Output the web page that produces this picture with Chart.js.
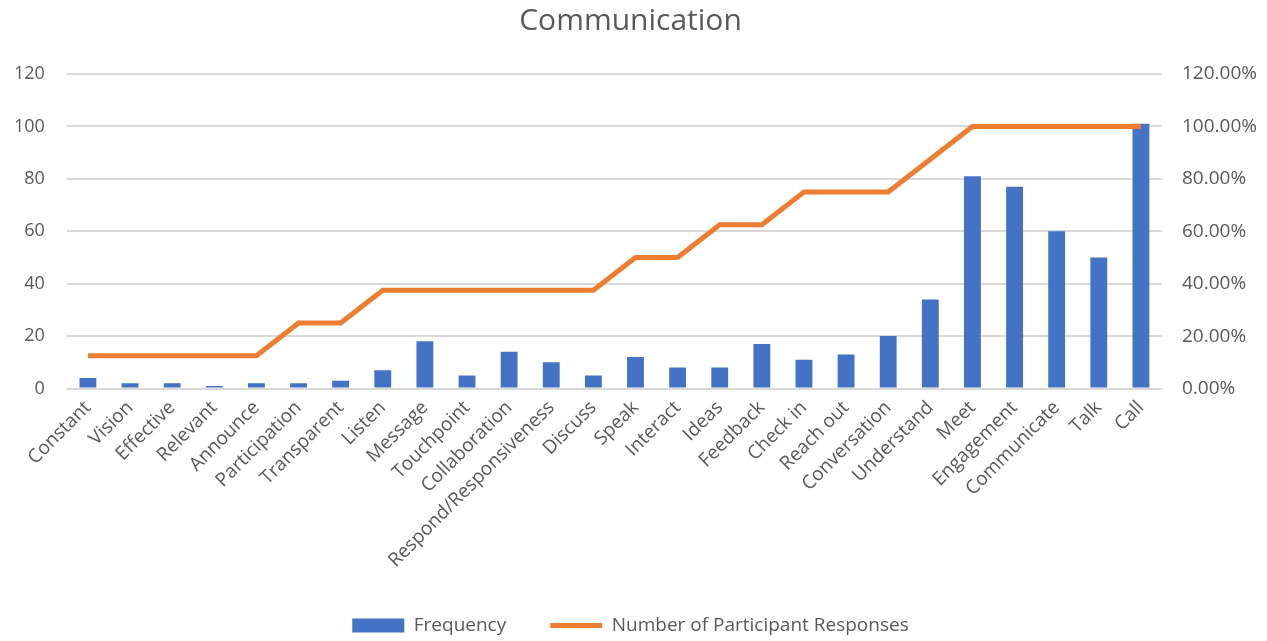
<!DOCTYPE html>
<html lang="en">
<head>
    <meta charset="UTF-8">
    <title>Communication</title>
    <script src="https://cdn.jsdelivr.net/npm/chart.js"></script>
    <style>
        html, body {
            margin: 0;
            padding: 0;
            background: #fff;
        }
    </style>
</head>
<body>
    <canvas id="commChart" width="1267" height="641"></canvas>

    <script>
        var categories = ['Constant', 'Vision', 'Effective', 'Relevant', 'Announce', 'Participation',
            'Transparent', 'Listen', 'Message', 'Touchpoint', 'Collaboration', 'Respond/Responsiveness',
            'Discuss', 'Speak', 'Interact', 'Ideas', 'Feedback', 'Check in', 'Reach out',
            'Conversation', 'Understand', 'Meet', 'Engagement', 'Communicate', 'Talk', 'Call'];

        // bars, left axis
        var frequency = [4, 2, 2, 1, 2, 2, 3, 7, 18, 5, 14, 10, 5, 12, 8, 8, 17, 11, 13, 20, 34, 81, 77, 60, 50, 101];

        // line, right axis (share of participants)
        var participantShare = [0.125, 0.125, 0.125, 0.125, 0.125, 0.25, 0.25, 0.375, 0.375, 0.375,
            0.375, 0.375, 0.375, 0.5, 0.5, 0.625, 0.625, 0.75, 0.75, 0.75, 0.875, 1, 1, 1, 1, 1];

        var leftTicks = [0, 20, 40, 60, 80, 100, 120];
        var rightTicks = [0, 0.2, 0.4, 0.6, 0.8, 1.0, 1.2];

        var textColor = '#595959';
        var fontFamily = "'Open Sans', sans-serif";

        var ctx = document.getElementById('commChart').getContext('2d');
        var commChart = new Chart(ctx, {
            data: {
                labels: categories,
                datasets: [{
                    type: 'line',
                    label: 'Number of Participant Responses',
                    data: participantShare,
                    yAxisID: 'yRight',
                    borderColor: '#ED7D31',
                    backgroundColor: '#ED7D31',
                    borderWidth: 5,
                    pointRadius: 0,
                    tension: 0,
                    order: 0
                }, {
                    type: 'bar',
                    label: 'Frequency',
                    data: frequency,
                    yAxisID: 'yLeft',
                    backgroundColor: '#4472C4',
                    barPercentage: 0.8,
                    categoryPercentage: 0.5,
                    order: 1
                }]
            },
            options: {
                responsive: false,
                animation: false,
                layout: {
                    padding: { left: -8, right: -2, top: 3, bottom: -4 }
                },
                plugins: {
                    title: {
                        display: true,
                        text: 'Communication',
                        color: textColor,
                        font: { family: fontFamily, size: 30, weight: 'normal' },
                        padding: { top: 0, bottom: 35 }
                    },
                    legend: {
                        position: 'bottom',
                        reverse: true,
                        labels: {
                            color: textColor,
                            font: { family: fontFamily, size: 19 },
                            usePointStyle: true,
                            pointStyleWidth: 52,
                            boxHeight: 14,
                            padding: 44,
                            generateLabels: function (chart) {
                                return chart.data.datasets.map(function (ds, i) {
                                    var isLine = ds.type === 'line';
                                    return {
                                        text: ds.label,
                                        fillStyle: ds.backgroundColor,
                                        strokeStyle: isLine ? ds.borderColor : ds.backgroundColor,
                                        lineWidth: isLine ? 5 : 0,
                                        pointStyle: isLine ? 'line' : 'rect',
                                        fontColor: textColor,
                                        datasetIndex: i,
                                        hidden: false
                                    };
                                });
                            }
                        }
                    },
                    tooltip: { enabled: false }
                },
                scales: {
                    x: {
                        grid: { display: false },
                        border: { display: false },
                        ticks: {
                            color: textColor,
                            font: { family: fontFamily, size: 19 },
                            minRotation: 45,
                            maxRotation: 45,
                            autoSkip: false,
                            padding: 0
                        }
                    },
                    yLeft: {
                        position: 'left',
                        min: 0,
                        max: 120,
                        afterBuildTicks: function (axis) {
                            axis.ticks = leftTicks.map(function (v) { return { value: v }; });
                        },
                        grid: { color: '#d9d9d9', lineWidth: 2, drawTicks: false },
                        border: { display: false },
                        ticks: {
                            color: textColor,
                            font: { family: fontFamily, size: 18 },
                            padding: 22
                        }
                    },
                    yRight: {
                        position: 'right',
                        min: 0,
                        max: 1.2,
                        afterBuildTicks: function (axis) {
                            axis.ticks = rightTicks.map(function (v) { return { value: v }; });
                        },
                        grid: { display: false },
                        border: { display: false },
                        ticks: {
                            color: textColor,
                            font: { family: fontFamily, size: 19 },
                            padding: 12,
                            callback: function (v) { return (v * 100).toFixed(2) + '%'; }
                        }
                    }
                }
            }
        });
    </script>
</body>
</html>
